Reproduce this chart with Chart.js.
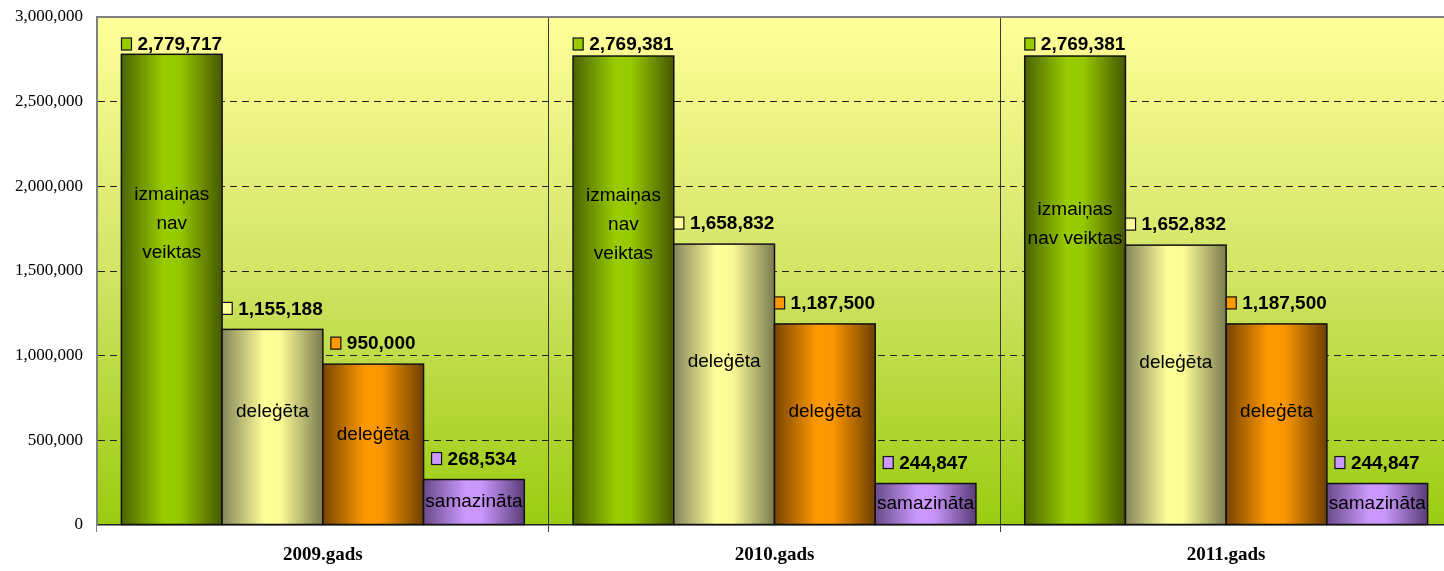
<!DOCTYPE html>
<html>
<head>
<meta charset="utf-8">
<script src="https://cdn.jsdelivr.net/npm/chart.js@4"></script>
<style>
    html, body { margin: 0; padding: 0; background: #fff; overflow: hidden; }
    #wrap { width: 1452px; height: 571px; }
</style>
</head>
<body>
<div id="wrap"><canvas id="budgetChart" width="1452" height="571"></canvas></div>
<script>
const categories = ['2009.gads', '2010.gads', '2011.gads'];
const unchanged = [2779717, 2769381, 2769381];
const delegatedA = [1155188, 1658832, 1652832];
const delegatedB = [950000, 1187500, 1187500];
const reduced = [268534, 244847, 244847];

const unchangedText = [['izmaiņas', 'nav', 'veiktas'], ['izmaiņas', 'nav', 'veiktas'], ['izmaiņas', 'nav veiktas']];
const delegatedText = ['deleģēta', 'deleģēta', 'deleģēta'];
const reducedText = ['samazināta', 'samazināta', 'samazināta'];

const yMax = 3000000;
const yStep = 500000;

// left edge -> right edge, gives the rounded "cylinder" look of the original
const barStops = [
    [[0, '#4a6400'], [0.42, '#99cc00'], [0.58, '#96c800'], [1, '#465800']],
    [[0, '#85855a'], [0.42, '#ffff99'], [0.58, '#fbfb96'], [1, '#7b7b50']],
    [[0, '#784400'], [0.42, '#ff9900'], [0.58, '#fa9600'], [1, '#6e3f00']],
    [[0, '#6a4b8a'], [0.42, '#cc99ff'], [0.58, '#c895fa'], [1, '#5a3d78']]
];
const keyColors = ['#99cc00', '#ffff99', '#ff9900', '#cc99ff'];
const innerTexts = [unchangedText, delegatedText, delegatedText, reducedText];
const innerPos = [0.64, 0.58, 0.56, 0.5];

const plotBg = {
    id: 'plotBg',
    beforeDraw(chart) {
        const { ctx, chartArea: a } = chart;
        const g = ctx.createLinearGradient(0, a.top, 0, a.bottom);
        g.addColorStop(0, '#ffff99');
        g.addColorStop(0.5, '#d2e466');
        g.addColorStop(1, '#9acc10');
        ctx.save();
        ctx.fillStyle = g;
        ctx.fillRect(a.left, a.top, a.right - a.left, a.bottom - a.top);
        ctx.restore();
    }
};

const cylBars = {
    id: 'cylBars',
    beforeDatasetsDraw(chart) {
        const ctx = chart.ctx;
        chart.data.datasets.forEach((ds, di) => {
            chart.getDatasetMeta(di).data.forEach(bar => {
                const { x, y, base, width } = bar.getProps(['x', 'y', 'base', 'width'], true);
                const l = x - width / 2;
                const g = ctx.createLinearGradient(l, 0, l + width, 0);
                barStops[di].forEach(([o, c]) => g.addColorStop(o, c));
                ctx.save();
                ctx.fillStyle = g;
                ctx.fillRect(l, y, width, base - y);
                ctx.strokeStyle = '#111';
                ctx.lineWidth = 1.5;
                ctx.strokeRect(l, y, width, base - y);
                ctx.restore();
            });
        });
        return false;
    },
    afterDraw(chart) {
        const { ctx, chartArea: a } = chart;
        ctx.save();
        ctx.strokeStyle = '#808080';
        ctx.lineWidth = 2;
        ctx.beginPath();
        ctx.moveTo(a.left, a.top);
        ctx.lineTo(a.right, a.top);
        ctx.stroke();

        chart.data.datasets.forEach((ds, di) => {
            chart.getDatasetMeta(di).data.forEach((bar, i) => {
                const { x, y, base } = bar.getProps(['x', 'y', 'base'], true);

                // value label with the little legend key in front
                const txt = ds.data[i].toLocaleString('en-US');
                ctx.font = 'bold 19px "Liberation Sans", Arial, sans-serif';
                const tw = ctx.measureText(txt).width;
                const total = 10 + 6 + tw;
                const lx = x - total / 2;
                const cy = Math.max(y - 21, 44);
                ctx.fillStyle = keyColors[di];
                ctx.fillRect(lx, cy - 6, 10, 12);
                ctx.strokeStyle = '#111';
                ctx.lineWidth = 1.2;
                ctx.strokeRect(lx, cy - 6, 10, 12);
                ctx.fillStyle = '#000';
                ctx.textAlign = 'left';
                ctx.textBaseline = 'middle';
                ctx.fillText(txt, lx + 16, cy + 1);

                // text inside the bar
                let lines = innerTexts[di][i];
                if (!Array.isArray(lines)) lines = [lines];
                ctx.font = '19px "Liberation Sans", Arial, sans-serif';
                ctx.textAlign = 'center';
                const mid = base - (base - y) * innerPos[di];
                const lh = 29;
                lines.forEach((ln, k) => {
                    ctx.fillText(ln, x, mid + (k - (lines.length - 1) / 2) * lh);
                });
            });
        });
        ctx.restore();
    }
};

new Chart(document.getElementById('budgetChart'), {
    type: 'bar',
    data: {
        labels: categories,
        datasets: [
            { label: 'izmaiņas nav veiktas', data: unchanged },
            { label: 'deleģēta', data: delegatedA },
            { label: 'deleģēta', data: delegatedB },
            { label: 'samazināta', data: reduced }
        ]
    },
    options: {
        responsive: false,
        animation: false,
        events: [],
        categoryPercentage: 0.892,
        barPercentage: 1,
        layout: { padding: { top: 17, right: 0, left: 0, bottom: 0 } },
        plugins: {
            legend: { display: false },
            tooltip: { enabled: false }
        },
        scales: {
            x: {
                afterFit: s => { s.height = 46; s.paddingLeft = 0; s.paddingRight = 0; },
                grid: {
                    offset: true,
                    color: c => c.index === 0 ? '#808080' : '#3a3a3a',
                    lineWidth: 1,
                    tickLength: 7,
                    drawTicks: true
                },
                border: { color: '#222', width: 1.5 },
                ticks: {
                    color: '#000',
                    padding: 12,
                    font: { family: '"Liberation Serif", "Times New Roman", serif', size: 19, weight: 'bold' }
                }
            },
            y: {
                min: 0,
                max: yMax,
                afterFit: s => { s.width = 97; s.paddingTop = 0; s.paddingBottom = 0; },
                grid: {
                    color: c => (c.tick.value === 0 || c.tick.value === yMax) ? 'rgba(0,0,0,0)' : '#222',
                    lineWidth: 1,
                    drawTicks: false
                },
                border: { color: '#808080', width: 2, dash: [7, 5] },
                ticks: {
                    stepSize: yStep,
                    color: '#000',
                    padding: 14,
                    font: { family: '"Liberation Serif", "Times New Roman", serif', size: 17 },
                    callback: v => v.toLocaleString('en-US')
                }
            }
        }
    },
    plugins: [plotBg, cylBars]
});
</script>
</body>
</html>
